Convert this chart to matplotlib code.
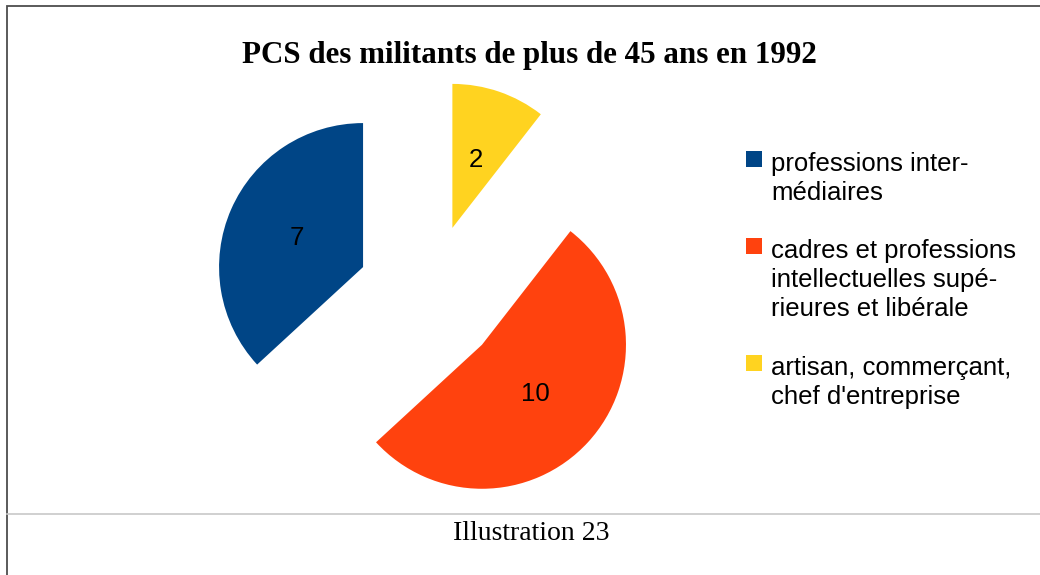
import numpy as np
import matplotlib
matplotlib.use("Agg")
import matplotlib.pyplot as plt
from matplotlib.patches import Rectangle
from matplotlib.lines import Line2D

# === DATA ===
categories = ["professions inter-\nmédiaires",
              "cadres et professions\nintellectuelles supé-\nrieures et libérale",
              "artisan, commerçant,\nchef d'entreprise"]
values = [7, 10, 2]
colours = ["#004586", "#ff420e", "#ffd320"]
title = "PCS des militants de plus de 45 ans en 1992"
caption = "Illustration 23"

W, H = 1040, 575
fig = plt.figure(figsize=(W / 100, H / 100), dpi=100)
fig.patch.set_facecolor("white")

FS = 18.5  # text size of labels and legend

# pie axes: 1 unit = 144 px, centred on the un-exploded pie centre
R = 144
cx, cy = 429, H - 296
lim = 1.6
ax = fig.add_axes([(cx - lim * R) / W, (cy - lim * R) / H, 2 * lim * R / W, 2 * lim * R / H])
total = sum(values)
wedges, _, autotexts = ax.pie(values, colors=colours, startangle=90, counterclock=True,
                              explode=[0.5] * len(values), radius=1,
                              autopct=lambda p: f"{round(p * total / 100)}",
                              pctdistance=0.5,
                              textprops=dict(fontsize=FS, family="Liberation Sans", color="black"))
ax.set_xlim(-lim, lim)
ax.set_ylim(-lim, lim)
ax.set_aspect("equal")
ax.axis("off")

# legend on the right, marker next to the first line of each entry
line_px = 30      # distance between text lines
gap_px = 27       # extra gap between entries
y_top = 152       # top of first line, px from top
for wedge, label in zip(wedges, categories):
    fig.add_artist(Rectangle((746 / W, 1 - (y_top + 15) / H), 16 / W, 16 / H,
                             transform=fig.transFigure, facecolor=wedge.get_facecolor(),
                             edgecolor="none"))
    fig.text(771 / W, 1 - y_top / H, label, ha="left", va="top", linespacing=1.25,
             family="Liberation Sans", fontsize=FS)
    y_top += label.count("\n") * line_px + line_px + gap_px

# title and caption
fig.text(529 / W, 1 - 55 / H, title, ha="center", va="center",
         family="Liberation Serif", weight="bold", fontsize=22.3)
fig.text(531 / W, 1 - 533 / H, caption, ha="center", va="center",
         family="Liberation Serif", fontsize=20)

# outer frame (open right / bottom) and caption separator
fig.add_artist(Rectangle((7 / W, -0.1), 1.2, 1.1 - 6 / H, transform=fig.transFigure,
                         fill=False, edgecolor="#4d4d4d", lw=1.3))
fig.add_artist(Line2D([7 / W, 1], [1 - 514 / H] * 2, transform=fig.transFigure,
                      color="#c8c8c8", lw=1.2))

fig.savefig("out.png", dpi=100, facecolor="white")
